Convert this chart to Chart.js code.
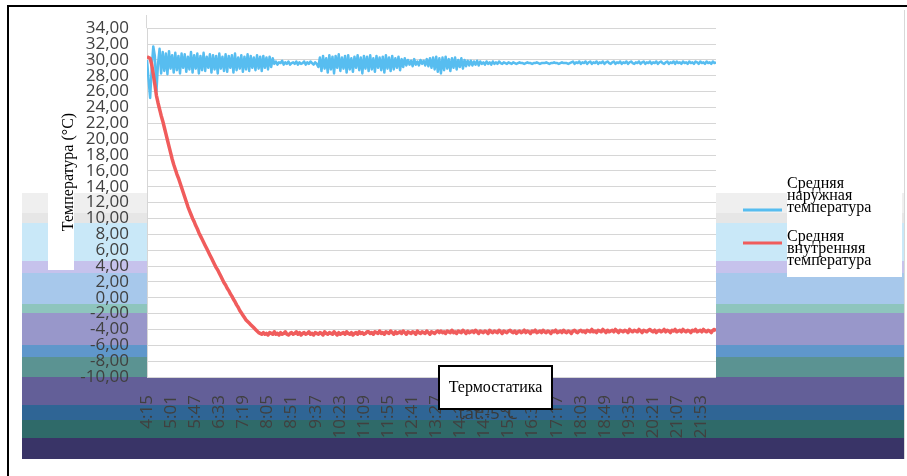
<!DOCTYPE html>
<html>
<head>
<meta charset="utf-8">
<script src="https://cdn.jsdelivr.net/npm/chart.js@4.4.1/dist/chart.umd.min.js"></script>
<style>
  html, body { margin: 0; padding: 0; background: #fff; }
  canvas { display: block; }
</style>
</head>
<body>
<canvas id="grafico" width="907" height="476"></canvas>
<script>
// --- data ---
const tickLabels = ['4:15', '5:01', '5:47', '6:33', '7:19', '8:05', '8:51', '9:37', '10:23', '11:09', '11:55', '12:41',
  '13:27', '14:13', '14:59', '15:45', '16:31', '17:17', '18:03', '18:49', '19:35', '20:21', '21:07', '21:53'];
const tickStepMin = 46;     // minutes between tick labels
const sampleStepMin = 3;    // minutes between readings

const seriesNames = ['Средняя наружная температура', 'Средняя внутренняя температура'];

const outsideTemp = [
  30.0, 27.5, 25.2, 29.0, 31.7, 30.5, 26.0, 29.5, 31.4,
  28.3, 31.0, 28.6, 30.8, 28.2, 31.1, 28.9, 30.6, 28.4, 30.9,
  28.7, 30.5, 28.3, 30.8, 29.0, 30.7, 28.5, 30.4, 28.8, 31.0,
  28.4, 30.6, 28.9, 30.8, 28.3, 30.5, 28.7, 30.9, 28.6, 30.4,
  29.0, 30.7, 28.4, 30.6, 28.8, 30.5, 28.3, 30.8, 28.9, 30.4,
  28.6, 30.7, 28.5, 30.5, 29.0, 30.6, 28.4, 30.8, 28.7, 30.3,
  28.9, 30.6, 28.5, 30.4, 28.8, 30.7, 28.6, 30.5, 29.0, 30.3,
  28.7, 30.6, 28.9, 30.4, 28.6, 30.5, 29.0, 30.3, 28.8, 30.4,
  29.1, 30.2,
  29.5, 29.8, 29.4, 29.7, 29.6, 29.9, 29.4, 29.7, 29.5, 29.8,
  29.4, 29.6, 29.7, 29.5, 29.8, 29.4, 29.7, 29.5, 29.6, 29.8,
  29.4, 29.7, 29.5, 29.8, 29.6, 29.4, 29.7, 29.5,
  29.1, 30.3, 28.6, 30.5, 28.9, 30.2, 28.4, 30.6, 28.8, 30.4,
  28.3, 30.5, 29.0, 30.7, 28.6, 30.3, 28.9, 30.5, 28.4, 30.6,
  28.8, 30.2, 28.5, 30.4, 29.0, 30.6, 28.7, 30.3, 28.3, 30.5,
  28.9, 30.4, 28.6, 30.6, 28.8, 30.2, 28.5, 30.5, 29.0, 30.3,
  28.7, 30.4, 28.4, 30.6, 28.9, 30.3, 28.6, 30.5, 28.8, 30.2,
  29.0, 30.4, 28.7, 30.1, 29.1, 30.2,
  29.3, 30.0, 29.4, 29.9, 29.2, 30.1, 29.4, 29.8, 29.3, 30.0,
  29.5, 29.9, 29.3, 30.1, 29.2, 30.2, 29.0,
  30.3, 28.8, 30.4, 28.5, 30.2, 28.3, 30.3, 28.7, 30.4, 28.9,
  30.1, 28.6, 30.2, 29.0, 30.3, 28.8, 30.0, 29.1, 30.2, 28.9,
  30.0, 29.2, 29.9, 29.3,
  29.9, 29.3, 29.8, 29.4, 29.9, 29.3, 29.8, 29.5, 29.7, 29.4,
  29.8, 29.5, 29.7, 29.4, 29.8, 29.5, 29.7, 29.5, 29.8, 29.6,
  29.5, 29.7, 29.6, 29.5, 29.7,
  29.6, 29.5, 29.7, 29.6, 29.5, 29.6, 29.7, 29.6, 29.6, 29.5,
  29.6, 29.7, 29.6, 29.6, 29.5, 29.6, 29.6, 29.7, 29.6, 29.5,
  29.6, 29.6, 29.6, 29.7, 29.6, 29.5, 29.6, 29.6, 29.7, 29.6,
  29.6, 29.5, 29.6, 29.7, 29.6, 29.6, 29.6, 29.5, 29.6, 29.7,
  29.8, 29.5, 29.7, 29.6, 29.8, 29.5, 29.7, 29.6, 29.8, 29.5,
  29.7, 29.8, 29.5, 29.7, 29.6, 29.8, 29.5, 29.7, 29.6, 29.8,
  29.5, 29.7, 29.8, 29.6, 29.5, 29.7, 29.8, 29.5, 29.7, 29.6,
  29.8, 29.5, 29.7, 29.6, 29.8, 29.5, 29.7, 29.8, 29.6, 29.5,
  29.7, 29.6, 29.8, 29.5, 29.7, 29.8, 29.5, 29.7, 29.6, 29.8,
  29.5, 29.7, 29.6, 29.8, 29.5, 29.7, 29.8, 29.6, 29.5, 29.7,
  29.8, 29.5, 29.7, 29.6, 29.8, 29.5, 29.8, 29.6, 29.7, 29.5,
  29.8, 29.6, 29.7, 29.5, 29.8, 29.6, 29.7, 29.5, 29.8, 29.7,
  29.5, 29.8, 29.6, 29.7, 29.5, 29.8, 29.6, 29.7, 29.5, 29.8,
  29.6, 29.7
];

const insideTemp = [
  30.4, 30.3, 30.2, 29.4, 28.2, 26.9, 25.5, 24.6, 23.8, 23.0,
  22.3, 21.5, 20.7, 19.9, 19.1, 18.3, 17.5, 16.8, 16.2, 15.6,
  15.1, 14.5, 13.9, 13.3, 12.7, 12.1, 11.5, 11.0, 10.5, 10.0,
  9.6, 9.1, 8.7, 8.2, 7.8, 7.4, 7.0, 6.6, 6.2, 5.8,
  5.4, 5.0, 4.6, 4.2, 3.8, 3.5, 3.1, 2.7, 2.3, 1.9,
  1.6, 1.2, 0.9, 0.5, 0.2, -0.2, -0.5, -0.9, -1.2, -1.6,
  -1.9, -2.2, -2.5, -2.8, -3.0, -3.2, -3.4, -3.6, -3.8, -4.0,
  -4.2, -4.4, -4.5, -4.6,
  -4.4, -4.6, -4.5, -4.7, -4.4, -4.5, -4.6, -4.3, -4.6, -4.5,
  -4.7, -4.4, -4.6, -4.5, -4.3, -4.6, -4.7, -4.5, -4.4, -4.6,
  -4.5, -4.3, -4.6, -4.4, -4.7, -4.5, -4.4, -4.6, -4.5, -4.3,
  -4.6, -4.5, -4.7, -4.4, -4.5, -4.6, -4.4, -4.5, -4.7, -4.3,
  -4.5, -4.6, -4.4, -4.5, -4.6, -4.3, -4.5, -4.7, -4.4, -4.6,
  -4.5, -4.4, -4.6, -4.3, -4.5, -4.6, -4.4, -4.7, -4.5, -4.4,
  -4.6, -4.3, -4.5, -4.4, -4.6, -4.5, -4.3,
  -4.3, -4.5, -4.4, -4.6, -4.3, -4.4, -4.5, -4.2, -4.5, -4.4,
  -4.6, -4.3, -4.4, -4.5, -4.2, -4.4, -4.6, -4.3, -4.5, -4.4,
  -4.3, -4.5, -4.2, -4.4, -4.6, -4.3, -4.4, -4.5, -4.3, -4.4,
  -4.6, -4.2, -4.4, -4.5, -4.3, -4.4, -4.5, -4.2, -4.4, -4.6,
  -4.3, -4.4, -4.5, -4.3, -4.2, -4.4,
  -4.2, -4.4, -4.3, -4.5, -4.2, -4.3, -4.4, -4.1, -4.4, -4.3,
  -4.5, -4.2, -4.3, -4.4, -4.1, -4.3, -4.5, -4.2, -4.4, -4.3,
  -4.2, -4.4, -4.1, -4.3, -4.5, -4.2, -4.3, -4.4, -4.2, -4.3,
  -4.5, -4.1, -4.3, -4.4, -4.2, -4.3, -4.4, -4.1, -4.3, -4.5,
  -4.2, -4.3, -4.4, -4.2, -4.1, -4.3, -4.4, -4.2, -4.5, -4.3,
  -4.2, -4.4, -4.3, -4.1, -4.4, -4.2, -4.3, -4.5, -4.2, -4.3,
  -4.1, -4.4, -4.3, -4.2, -4.4, -4.1, -4.3, -4.4, -4.2, -4.3,
  -4.5, -4.2, -4.3, -4.1, -4.4, -4.3, -4.2, -4.4, -4.1, -4.3,
  -4.4, -4.2, -4.3, -4.5, -4.2, -4.1, -4.3, -4.4, -4.2,
  -4.1, -4.3, -4.2, -4.4, -4.1, -4.2, -4.3, -4.0, -4.3, -4.2,
  -4.4, -4.1, -4.2, -4.3, -4.0, -4.2, -4.4, -4.1, -4.3, -4.2,
  -4.1, -4.3, -4.0, -4.2, -4.4, -4.1, -4.2, -4.3, -4.1, -4.2,
  -4.4, -4.0, -4.2, -4.3, -4.1, -4.2, -4.3, -4.0, -4.2, -4.4,
  -4.1, -4.2, -4.3, -4.1, -4.0, -4.2, -4.3, -4.1, -4.4, -4.2,
  -4.1, -4.3, -4.2, -4.0, -4.3, -4.1, -4.2, -4.4, -4.1, -4.2,
  -4.0, -4.3, -4.2, -4.1, -4.3, -4.0, -4.2, -4.3, -4.1, -4.2,
  -4.4, -4.1, -4.2, -4.0, -4.3, -4.2, -4.1, -4.3, -4.0, -4.2,
  -4.3, -4.1, -4.2, -4.4, -4.1, -4.0, -4.2
];

const yMin = -10;
const yMax = 34;
const yStep = 2;

const captionText = 'Термостатика';
const strayText = 'tat:-5°C';
const yTitle = 'Температура (°C)';

// --- drawing ---
const tickFont = { family: 'Open Sans', size: 17 };
const serif = '"Liberation Serif", "DejaVu Serif", serif';

// colour stripes behind the chart (from the screenshot background)
const stripes = [
  [20, '#efefef'], [10, '#e6e6e6'], [38, '#c9e8f8'], [12, '#c6c2ec'], [31, '#a7c8eb'],
  [9, '#8ec5bd'], [32, '#9897ca'], [12, '#5f97cb'], [20, '#5b9392'], [28, '#635f98'],
  [15, '#2f6595'], [18, '#2f6a69'], [21, '#393467']
];

const toPoints = arr => arr.map((v, i) => ({ x: i * sampleStepMin, y: v }));

const fondo = {
  id: 'fondo',
  beforeDraw(chart) {
    const { ctx, chartArea: a } = chart;
    ctx.save();
    ctx.fillStyle = '#fff';
    ctx.fillRect(0, 0, chart.width, chart.height);

    let y = 193;
    stripes.forEach(([h, c]) => {
      ctx.fillStyle = c;
      ctx.fillRect(22, y, 882, h);
      y += h;
    });

    ctx.fillStyle = '#fff';
    ctx.fillRect(a.left, 15, a.right - a.left, a.bottom - 15);
    ctx.fillRect(48, 193, 26, 77);     // behind axis title
    ctx.fillRect(787, 193, 115, 84);   // behind legend

    ctx.fillStyle = '#d8d8d8';
    ctx.fillRect(a.left - 1, 15, 1, a.top - 15);
    ctx.fillRect(904, 10, 1, 449);

    ctx.fillStyle = '#000';
    ctx.fillRect(7, 5, 900, 2);
    ctx.fillRect(7, 5, 2, 471);

    ctx.fillStyle = '#3a3a3a';
    ctx.font = '17px "Open Sans"';
    ctx.textAlign = 'center';
    ctx.fillText(strayText, 488, 419);
    ctx.restore();
  },
  afterDraw(chart) {
    const { ctx } = chart;
    ctx.save();

    // axis title
    ctx.font = '16px ' + serif;
    ctx.fillStyle = '#000';
    ctx.textAlign = 'center';
    ctx.translate(73, 172);
    ctx.rotate(-Math.PI / 2);
    ctx.fillText(yTitle, 0, 0);
    ctx.setTransform(1, 0, 0, 1, 0, 0);

    // legend
    const symbolY = [210, 243];
    ctx.textAlign = 'left';
    chart.data.datasets.forEach((ds, k) => {
      ctx.strokeStyle = ds.borderColor;
      ctx.lineWidth = 3;
      ctx.beginPath();
      ctx.moveTo(743, symbolY[k]);
      ctx.lineTo(782, symbolY[k]);
      ctx.stroke();
      ctx.fillStyle = '#000';
      ds.label.split(' ').forEach((w, j) => {
        ctx.fillText(w, 787, 187.5 + 53 * k + 12 * j);
      });
    });

    // caption box
    ctx.fillStyle = '#fff';
    ctx.fillRect(438, 365, 115, 45);
    ctx.strokeStyle = '#000';
    ctx.lineWidth = 2;
    ctx.strokeRect(439, 366, 113, 43);
    ctx.fillStyle = '#000';
    ctx.textAlign = 'center';
    ctx.fillText(captionText, 495.5, 391.5);
    ctx.restore();
  }
};

new Chart(document.getElementById('grafico'), {
  type: 'line',
  data: {
    datasets: [
      { label: seriesNames[0], data: toPoints(outsideTemp), borderColor: '#57bdf0', borderWidth: 2.5, order: 1 },
      { label: seriesNames[1], data: toPoints(insideTemp), borderColor: '#f05c5c', borderWidth: 3.5, order: 0 }
    ]
  },
  options: {
    responsive: false,
    animation: false,
    layout: { padding: { top: 23, right: 191, bottom: 0, left: 0 } },
    elements: {
      point: { radius: 0 },
      line: { tension: 0, borderJoinStyle: 'round', fill: false }
    },
    plugins: { legend: { display: false }, tooltip: { enabled: false } },
    scales: {
      x: {
        type: 'linear',
        min: 0,
        max: (outsideTemp.length - 1) * sampleStepMin,
        afterBuildTicks: s => { s.ticks = tickLabels.map((_, i) => ({ value: i * tickStepMin })); },
        afterFit: s => { s.height = 99; },
        grid: { display: false, drawTicks: false },
        border: { display: false },
        ticks: {
          autoSkip: false,
          minRotation: 90,
          maxRotation: 90,
          padding: 18,
          color: '#404040',
          font: tickFont,
          callback: (v, i) => tickLabels[i]
        }
      },
      y: {
        min: yMin,
        max: yMax,
        afterFit: s => { s.width = 147; },
        grid: { color: '#d6d6d6', drawTicks: false },
        border: { color: '#d6d6d6' },
        ticks: {
          stepSize: yStep,
          autoSkip: false,
          padding: 18,
          color: '#404040',
          font: tickFont,
          callback: v => v.toFixed(2).replace('.', ',')
        }
      }
    }
  },
  plugins: [fondo]
});
</script>
</body>
</html>
